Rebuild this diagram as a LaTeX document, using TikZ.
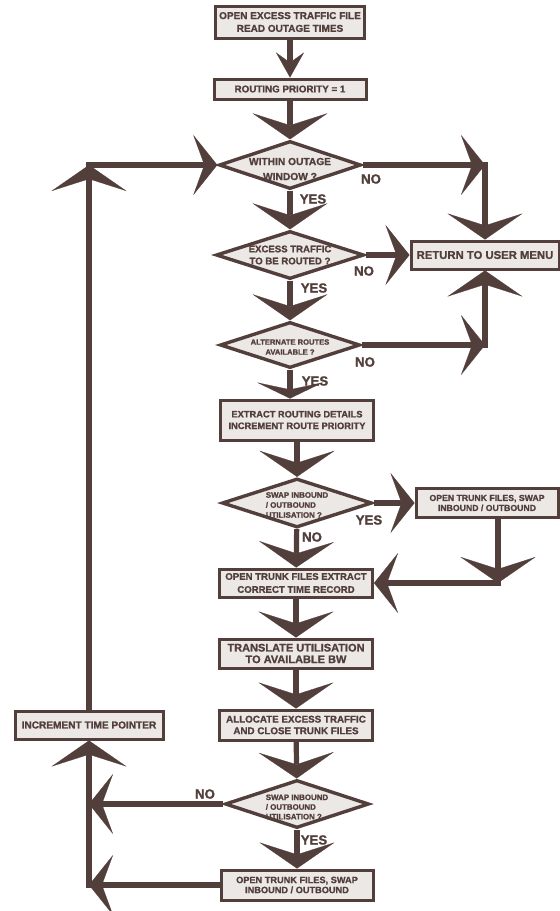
\documentclass[tikz,border=0pt]{standalone}
\usepackage{fontspec}
\setmainfont{Liberation Sans}[BoldFeatures={FakeBold=1.2}]
\usetikzlibrary{arrows.meta,shapes.geometric}
\definecolor{ink}{RGB}{82,62,58}
\definecolor{paper}{RGB}{236,232,230}
\newcommand\fs[2]{\fontsize{#1}{#2}\selectfont\bfseries}

\begin{document}
\begin{tikzpicture}[x=0.5pt,y=-0.5pt,
  ln/.style={draw=ink, line width=2.6pt},
  box/.style={rectangle, draw=ink, line width=1.5pt, fill=paper, text=ink, inner sep=0pt, align=center},
  dia/.style={diamond, draw=ink, line width=1.7pt, fill=paper, inner sep=0pt},
  dtxt/.style={text=ink, inner sep=0pt},
  lab/.style={text=ink, inner sep=0pt, font=\fs{6.6}{7}},
  big/.style={-{Stealth[length=13pt, width=37.5pt, inset=6pt, line width=0.1pt]}},
  flat/.style={-{Stealth[length=8pt, width=33pt, inset=3.5pt, line width=0.1pt]}},
  side/.style={-{Stealth[length=12pt, width=30pt, inset=5.5pt, line width=0.1pt]}},
  small/.style={-{Stealth[length=12.5pt, width=14pt, inset=5pt, line width=0.1pt]}},
]
\useasboundingbox[fill=white] (0,0) rectangle (560,911);

% main column
\node[box, minimum width=74.5pt, minimum height=16pt, font=\fs{5}{6.4}] (b1) at (290,22) {OPEN EXCESS TRAFFIC FILE\\READ OUTAGE TIMES};
\node[box, minimum width=76pt, minimum height=10pt, font=\fs{4.9}{6}] (b2) at (290,89) {ROUTING PRIORITY = 1};
\node[dia, minimum width=71pt, minimum height=24pt,
  label={[dtxt, align=center, font=\fs{5.1}{7.5}, yshift=-2pt]center:WITHIN OUTAGE\\WINDOW ?}] (d1) at (290,165) {};
\node[dia, minimum width=74pt, minimum height=24pt,
  label={[dtxt, align=center, font=\fs{4.8}{6}]center:EXCESS TRAFFIC\\TO BE ROUTED ?}] (d2) at (290,255) {};
\node[dia, minimum width=70pt, minimum height=23pt,
  label={[dtxt, align=center, font=\fs{3.8}{5}, yshift=-1pt]center:ALTERNATE ROUTES\\AVAILABLE ?}] (d3) at (290,345) {};
\node[box, minimum width=74pt, minimum height=14pt, font=\fs{5.65}{7}] (ret) at (485,255) {RETURN TO USER MENU};
\node[box, minimum width=76.5pt, minimum height=20pt, font=\fs{4.65}{5.8}] (b4) at (297,420) {EXTRACT ROUTING DETAILS\\INCREMENT ROUTE PRIORITY};
\node[dia, minimum width=75pt, minimum height=24.5pt,
  label={[dtxt, align=left, font=\fs{3.95}{5}, yshift=-1pt]center:SWAP INBOUND\\/ OUTBOUND\\UTILISATION ?}] (d4) at (297,503) {};
\node[box, minimum width=71pt, minimum height=14.5pt, font=\fs{4.35}{5}] (b5r) at (487,503) {OPEN TRUNK FILES, SWAP\\INBOUND / OUTBOUND};
\node[box, minimum width=76.5pt, minimum height=14pt, font=\fs{4.8}{6.5}] (b6) at (296,583) {OPEN TRUNK FILES EXTRACT\\CORRECT TIME RECORD};
\node[box, minimum width=76.5pt, minimum height=14.5pt, font=\fs{5.5}{5.8}] (b7) at (296,653.5) {TRANSLATE UTILISATION\\TO AVAILABLE BW};
\node[box, minimum width=76.5pt, minimum height=15pt, font=\fs{4.9}{5.8}] (b8) at (296,725) {ALLOCATE EXCESS TRAFFIC\\AND CLOSE TRUNK FILES};
\node[dia, minimum width=72pt, minimum height=24pt,
  label={[dtxt, align=left, font=\fs{3.95}{4.85}, yshift=-1.5pt]center:SWAP INBOUND\\/ OUTBOUND\\UTILISATION ?}] (d5) at (297,804) {};
\node[box, minimum width=76pt, minimum height=15pt, font=\fs{4.6}{5}] (b9) at (297,885) {OPEN TRUNK FILES, SWAP\\INBOUND / OUTBOUND};
\node[box, minimum width=74pt, minimum height=14pt, font=\fs{5.05}{6}] (inc) at (89,725) {INCREMENT TIME POINTER};

% branch labels
\node[lab] (y1) at (313,199) {YES};
\node[lab] (n1) at (371,179) {NO};
\node[lab] (y2) at (314,288) {YES};
\node[lab] (n2) at (364,271) {NO};
\node[lab] (y3) at (315,381) {YES};
\node[lab] (n3) at (365,362) {NO};
\node[lab] (y4) at (369,520) {YES};
\node[lab] (n4) at (312,537) {NO};
\node[lab] (n5) at (205,794) {NO};
\node[lab] (y5) at (314,840) {YES};

% corner points
\coordinate (c1) at (d1 -| ret);
\coordinate (c3) at (d3 -| ret);
\coordinate (c5s) at ([xshift=5.5pt]b5r.south);
\coordinate (c5) at (c5s |- b6);
\coordinate (c6) at (inc |- d5);
\coordinate (c7) at (inc |- b9);
\coordinate (c8) at (inc |- d1);

% main flow
\draw[ln, small] (b1) -- (b2);
\draw[ln, big] (b2) -- (d1);
\draw[ln, big] (d1) -- (d2);
\draw[ln, big] (d2) -- (d3);
\draw[ln, flat] (d3.south) -- (d3.south |- b4.north);
\draw[ln, big] (b4) -- (d4);
\draw[ln, big] (d4) -- (b6);
\draw[ln, big] (b6) -- (b7);
\draw[ln, big] (b7) -- (b8);
\draw[ln, big] (b8) -- (d5);
\draw[ln, big] (d5) -- (b9);

% exits to the user menu
\draw[ln, side] (d1) -- (c1);
\draw[ln, big, line cap=rect] (c1) -- (ret);
\draw[ln, side] (d2) -- (ret);
\draw[ln, side] (d3) -- (c3);
\draw[ln, big, line cap=rect] (c3) -- (ret);

% swap branch
\draw[ln, side] (d4) -- (b5r);
\draw[ln, big] (c5s) -- (c5);
\draw[ln, side, line cap=rect] (c5) -- (b6);

% loop back
\draw[ln, side] (d5) -- (c6);
\draw[ln, side] (b9) -- (c7);
\draw[ln, big, line cap=rect] (c7) -- (inc);
\draw[ln, big] (inc) -- (c8);
\draw[ln, side, line cap=rect] (c8) -- (d1);
\end{tikzpicture}
\end{document}
